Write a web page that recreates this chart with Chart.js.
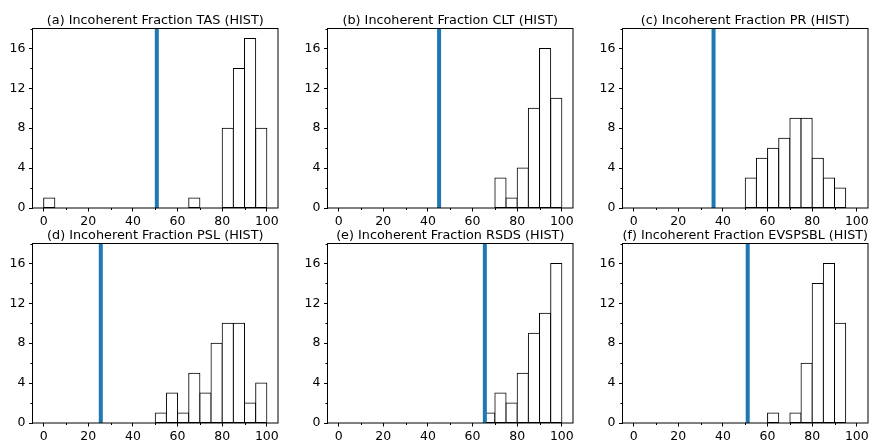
<!DOCTYPE html>
<html>
<head>
<meta charset="utf-8">
<script src="https://cdn.jsdelivr.net/npm/chart.js@4.4.1/dist/chart.umd.min.js"></script>
<style>
  html, body { margin: 0; padding: 0; background: #fff; }
  #fig { position: relative; width: 872px; height: 441px; overflow: hidden; background: #fff; }
  #fig canvas { position: absolute; }
</style>
</head>
<body>
<div id="fig"></div>
<script>
// histogram bins: 5 wide, 0..100 (centres)
const binCenters = [2.5, 7.5, 12.5, 17.5, 22.5, 27.5, 32.5, 37.5, 42.5, 47.5,
                    52.5, 57.5, 62.5, 67.5, 72.5, 77.5, 82.5, 87.5, 92.5, 97.5];

// counts per bin
const tasCounts     = [1, 0, 0, 0, 0, 0, 0, 0, 0, 0, 0, 0, 0, 1, 0, 0, 8, 14, 17, 8];
const cltCounts     = [0, 0, 0, 0, 0, 0, 0, 0, 0, 0, 0, 0, 0, 0, 3, 1, 4, 10, 16, 11];
const prCounts      = [0, 0, 0, 0, 0, 0, 0, 0, 0, 0, 3, 5, 6, 7, 9, 9, 5, 3, 2, 0];
const pslCounts     = [0, 0, 0, 0, 0, 0, 0, 0, 0, 0, 1, 3, 1, 5, 3, 8, 10, 10, 2, 4];
const rsdsCounts    = [0, 0, 0, 0, 0, 0, 0, 0, 0, 0, 0, 0, 0, 1, 3, 2, 5, 9, 11, 16];
const evspsblCounts = [0, 0, 0, 0, 0, 0, 0, 0, 0, 0, 0, 0, 1, 0, 1, 6, 14, 16, 10, 0];

// vertical reference line per panel
const tasLine = 50.7;
const cltLine = 45.0;
const prLine = 35.8;
const pslLine = 25.6;
const rsdsLine = 65.5;
const evspsblLine = 51.1;

// axis ticks
const xTicks = [0, 20, 40, 60, 80, 100];
const xMinor = [10, 30, 50, 70, 90];
const yTicks = [0, 4, 8, 12, 16];
const yMinor = [2, 6, 10, 14, 18];

const panels = [
    { title: '(a) Incoherent Fraction TAS (HIST)',     counts: tasCounts,     line: tasLine,     left: 32,  top: 28 },
    { title: '(b) Incoherent Fraction CLT (HIST)',     counts: cltCounts,     line: cltLine,     left: 327, top: 28 },
    { title: '(c) Incoherent Fraction PR (HIST)',      counts: prCounts,      line: prLine,      left: 622, top: 28 },
    { title: '(d) Incoherent Fraction PSL (HIST)',     counts: pslCounts,     line: pslLine,     left: 32,  top: 243 },
    { title: '(e) Incoherent Fraction RSDS (HIST)',    counts: rsdsCounts,    line: rsdsLine,    left: 327, top: 243 },
    { title: '(f) Incoherent Fraction EVSPSBL (HIST)', counts: evspsblCounts, line: evspsblLine, left: 622, top: 243 }
];

const AX_W = 246, AX_H = 180;
const PAD_L = 40, PAD_R = 30, PAD_T = 30, PAD_B = 24;
const FONT = "'DejaVu Sans', sans-serif";

// spines + minor ticks, matplotlib style
const framePlugin = {
    id: 'frame',
    afterDraw(chart) {
        const { ctx, chartArea: a, scales } = chart;
        ctx.save();
        ctx.strokeStyle = '#000';
        ctx.lineWidth = 1;
        ctx.beginPath();
        xMinor.forEach(v => {
            const px = Math.round(scales.x.getPixelForValue(v)) + 0.5;
            ctx.moveTo(px, a.bottom);
            ctx.lineTo(px, a.bottom + 2);
        });
        yMinor.forEach(v => {
            const py = Math.round(scales.y.getPixelForValue(v)) + 0.5;
            ctx.moveTo(a.left - 2, py);
            ctx.lineTo(a.left, py);
        });
        ctx.stroke();
        ctx.strokeRect(a.left, a.top, a.right - a.left, a.bottom - a.top);
        ctx.restore();
    }
};

const fig = document.getElementById('fig');

panels.forEach(p => {
    const canvas = document.createElement('canvas');
    canvas.width = PAD_L + AX_W + PAD_R;
    canvas.height = PAD_T + AX_H + PAD_B;
    canvas.style.left = (p.left - PAD_L) + 'px';
    canvas.style.top = (p.top - PAD_T) + 'px';
    fig.appendChild(canvas);

    new Chart(canvas, {
        type: 'bar',
        data: {
            datasets: [{
                type: 'line',
                data: [{ x: p.line, y: 0 }, { x: p.line, y: 18 }],
                borderColor: '#1f77b4',
                borderWidth: 4,
                pointRadius: 0,
                order: 0
            }, {
                type: 'bar',
                data: binCenters.map((x, i) => ({ x: x, y: p.counts[i] || null })),
                backgroundColor: '#ffffff',
                borderColor: '#000000',
                borderWidth: 1,
                borderSkipped: false,
                inflateAmount: 0.5,
                barPercentage: 1,
                categoryPercentage: 1,
                order: 1
            }]
        },
        options: {
            responsive: false,
            animation: false,
            devicePixelRatio: 1,
            layout: { padding: { left: 0, right: PAD_R, top: 0, bottom: 0 } },
            plugins: {
                legend: { display: false },
                tooltip: { enabled: false },
                title: {
                    display: true,
                    fullSize: false,
                    text: p.title,
                    color: '#000',
                    font: { family: FONT, size: 12.8, weight: 'normal', lineHeight: '15px' },
                    padding: { top: 15, bottom: 0.5 }
                }
            },
            scales: {
                x: {
                    type: 'linear',
                    min: -5,
                    max: 105,
                    offset: false,
                    afterBuildTicks: s => { s.ticks = xTicks.map(v => ({ value: v })); },
                    afterFit: s => { s.height = PAD_B; },
                    border: { display: false },
                    grid: { offset: false, drawOnChartArea: false, drawTicks: true, tickLength: 3.5, color: '#000', lineWidth: 1 },
                    ticks: { color: '#000', padding: 3, maxRotation: 0, font: { family: FONT, size: 12.5 } }
                },
                y: {
                    min: 0,
                    max: 18,
                    afterBuildTicks: s => { s.ticks = yTicks.map(v => ({ value: v })); },
                    afterFit: s => { s.width = PAD_L + 0.5; },
                    border: { display: false },
                    grid: { drawOnChartArea: false, drawTicks: true, tickLength: 3.5, color: '#000', lineWidth: 1 },
                    ticks: { color: '#000', padding: 3.5, font: { family: FONT, size: 12.5 } }
                }
            }
        },
        plugins: [framePlugin]
    });
});
</script>
</body>
</html>
